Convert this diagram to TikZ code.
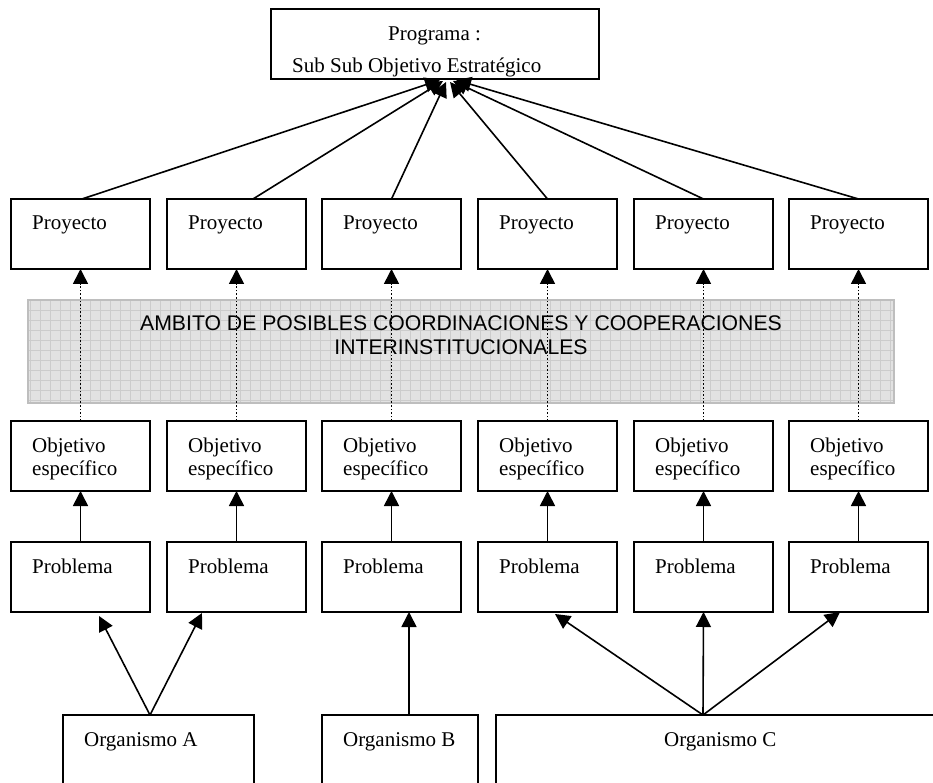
\documentclass[tikz,border=0pt]{standalone}
\usepackage{fontspec}
\setmainfont{Liberation Serif}
\newfontfamily\arialf{Liberation Sans}
\usetikzlibrary{arrows.meta,calc}
\begin{document}
\begin{tikzpicture}[x=1pt,y=-1pt,
  font=\fontsize{21}{24}\selectfont,
  box/.style={draw, line width=1.6pt, minimum width=139pt, minimum height=70pt, anchor=north west, inner sep=0pt, outer sep=0pt},
  orgbox/.style={draw, line width=1.6pt, minimum height=140pt, anchor=north west, inner sep=0pt, outer sep=0pt},
  txt/.style={anchor=base west, inner sep=0pt},
  btxt/.style={anchor=base, inner sep=0pt, font=\arialf\fontsize{21.2}{24}\selectfont},
  arr/.style={line width=1.6pt, -{Triangle[length=15pt,width=15pt]}},
  dotarr/.style={arr, dash pattern=on 1.6pt off 2pt},
]
\useasboundingbox (0,0) rectangle (933,783);
\clip (0,0) rectangle (933,783);
\fill[white] (0,0) rectangle (933,783);

% top box
\node[draw, line width=1.6pt, minimum width=328pt, minimum height=70pt, anchor=north west, inner sep=0pt, outer sep=0pt] (top) at (271,9) {};
\node[txt] (topa) at (388,40.7) {Programa :};
\node[txt] (topb) at (292,72.7) {Sub Sub Objetivo Estrat\'egico};

% band
\fill[fill={rgb,255:red,226;green,226;blue,226}] (28,300) rectangle (894,403);
\draw[draw={rgb,255:red,204;green,204;blue,204}, line width=0.6pt, step=10pt] (28,300) grid (894,403);
\node[draw={rgb,255:red,190;green,190;blue,190}, line width=1.6pt, minimum width=866pt, minimum height=103pt, anchor=north west, inner sep=0pt, outer sep=0pt] (amb) at (28,300) {};
\node[btxt] (amba) at (461,330) {AMBITO DE POSIBLES COORDINACIONES Y COOPERACIONES};
\node[btxt] (ambb) at (461,354) {INTERINSTITUCIONALES};

% columns
\foreach \i/\l in {1/11,2/167,3/322,4/478,5/634,6/789} {
  \node[box] (p\i) at (\l,199) {};
  \node[txt] (pt\i) at (\l+21,230) {Proyecto};
  \node[box] (o\i) at (\l,421) {};
  \node[txt] (ota\i) at (\l+21,452) {Objetivo};
  \node[txt] (otb\i) at (\l+21,475) {espec\'ifico};
  \node[box] (r\i) at (\l,542) {};
  \node[txt] (rt\i) at (\l+21,573) {Problema};
  \draw[arr] (r\i.north) -- (o\i.south);
  \draw[dotarr] (o\i.north) -- (p\i.south);
}

% arrows to the top box
\coordinate (t1) at ($(top.south)+(5,1)$);
\coordinate (t2) at ($(top.south)+(8,2)$);
\coordinate (t3) at ($(top.south)+(11,3)$);
\coordinate (t4) at ($(top.south)+(15,3)$);
\coordinate (t5) at ($(top.south)+(18,2)$);
\coordinate (t6) at ($(top.south)+(21,1)$);
\draw[arr] ($(p1.north)+(1.5,0)$) -- (t1);
\draw[arr] ($(p2.north)+(16.5,0)$) -- (t2);
\draw[arr] (p3.north) -- (t3);
\draw[arr] (p4.north) -- (t4);
\draw[arr] (p5.north) -- (t5);
\draw[arr] (p6.north) -- (t6);

% organismos
\node[orgbox, minimum width=191pt] (orgA) at (63,715) {};
\node[txt] (orgAt) at (84,746) {Organismo A};
\node[orgbox, minimum width=156pt] (orgB) at (322,715) {};
\node[txt] (orgBt) at (343,746) {Organismo B};
\node[orgbox, minimum width=480pt] (orgC) at (496,715) {};
\node[txt] (orgCt) at (664,746) {Organismo C};

\coordinate (ca) at ($(orgA.north west)+(87,0)$);
\draw[arr] (ca) -- ($(r1.south west)+(88,4)$);
\draw[arr] (ca) -- ($(r2.south west)+(35,1)$);
\draw[arr] ($(orgB.north west)+(87,0)$) -- ($(r3.south west)+(87,0)$);
\coordinate (cc) at ($(orgC.north west)+(207,0)$);
\draw[arr] (cc) -- ($(r4.south west)+(77,2)$);
\draw[arr] (cc) -- (r5.south);
\draw[arr] (cc) -- ($(r6.south west)+(51,0)$);
\end{tikzpicture}
\end{document}
